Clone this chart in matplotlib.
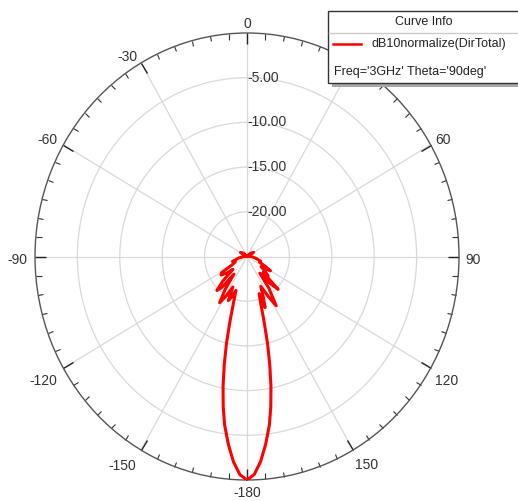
import matplotlib.pyplot as plt
from matplotlib.patches import Rectangle
from matplotlib.lines import Line2D
import numpy as np

plt.rcParams['font.family'] = ['Liberation Sans', 'DejaVu Sans']

# dB10normalize(DirTotal), Freq=3GHz, Theta=90deg
phi_left = [-180, -178, -176, -174, -172, -170.5, -169, -167.5, -166, -164.5,
            -163, -161, -158.5, -156, -154, -151, -148, -145, -142, -139.5,
            -137, -134, -131, -128, -124, -121, -118, -113, -108, -100, -90,
            -75, -60, -50, -40, -20, 0]
db_left = [0.0, -0.6, -2.0, -3.9, -6.0, -8.0, -10.2, -12.6, -15.0, -17.5,
           -19.5, -21.0, -20.2, -19.6, -21.2, -20.0, -18.9, -20.5, -22.5,
           -20.5, -19.8, -21.0, -22.8, -22.0, -21.3, -21.5, -23.0, -23.5,
           -23.2, -24.0, -24.6, -25.0, -24.1, -24.4, -25.0, -25.0, -25.0]

phi_right = [0, 20, 40, 50, 60, 75, 90, 100, 108, 113, 117, 120, 124, 128,
             131, 133, 135, 138, 141, 144, 148, 151, 154, 157, 159.5, 161,
             163, 164.5, 166, 167.5, 169, 170.5, 172, 174, 176, 178, 180]
db_right = [-25.0, -25.0, -25.0, -24.4, -24.1, -25.0, -24.5, -24.0, -23.3,
            -23.4, -22.6, -21.8, -23.0, -22.3, -21.7, -22.4, -19.8, -21.0,
            -22.6, -20.6, -18.5, -20.0, -21.3, -20.1, -18.9, -20.6, -19.4,
            -17.5, -15.0, -12.6, -10.2, -8.0, -6.0, -3.9, -2.0, -0.6, 0.0]

ring_db = [-5, -10, -15, -20]
ring_labels = ['-5.00', '-10.00', '-15.00', '-20.00']
angle_ticks = [0, 30, 60, 90, 120, 150, 180, -150, -120, -90, -60, -30]
angle_labels = ['0', '30', '60', '90', '120', '150', '-180', '-150', '-120',
                '-90', '-60', '-30']
# label offsets from the rim, in pixels
label_offsets = [(0, 9), (15, 7), (12, 5), (14, -3), (16, -13), (14, -15),
                 (0, -13), (-19, -16), (-20, -13), (-18, -3), (-16, 5),
                 (-14, 6)]

phi = np.array(phi_left + phi_right[1:])
db = np.clip(np.array(db_left + db_right[1:]), -25, 0)

fig = plt.figure(figsize=(5.18, 5.01), dpi=100)
ax = fig.add_axes([35 / 518, 21 / 501, 424 / 518, 447 / 501], projection='polar')
ax.set_aspect('auto')
ax.set_theta_zero_location('N')
ax.set_theta_direction(-1)

ax.plot(np.deg2rad(phi), db, color='#ff0000', lw=2.2, zorder=5)
ax.set_thetalim(-np.pi, np.pi)
ax.set_rlim(-25, 0)

ax.set_xticks(np.deg2rad(angle_ticks))
ax.set_xticklabels([])
ax.set_xticks(np.deg2rad(np.arange(-180, 180, 5)), minor=True)
ax.tick_params(axis='x', which='both', top=True, bottom=False,
               labelbottom=False, labeltop=False)
ax.tick_params(axis='x', which='major', direction='in', length=8, width=1,
               color='#222222')
ax.tick_params(axis='x', which='minor', direction='in', length=4, width=0.8,
               color='#333333')
ax.set_yticks(ring_db)
ax.set_yticklabels([])
ax.grid(True, color='#d9d9d9', lw=0.9)
ax.spines['polar'].set_color('#555555')
ax.spines['polar'].set_linewidth(1.0)

for a, lab, off in zip(angle_ticks, angle_labels, label_offsets):
    ax.annotate(lab, xy=(np.deg2rad(a), 0), xytext=off,
                textcoords='offset pixels', ha='center', va='center',
                fontsize=10, color='#333333', annotation_clip=False)

for r, lab in zip(ring_db, ring_labels):
    ax.text(0, r, lab, ha='left', va='center', fontsize=10, color='#333333',
            zorder=6)

# legend box
fig.patches.append(Rectangle((332, 501 - 87), 200, 72, transform=None,
                             facecolor='#a8a8a8', edgecolor='none', zorder=9))
fig.patches.append(Rectangle((328, 501 - 83), 200, 72, transform=None,
                             facecolor='white', edgecolor='#333333', lw=1,
                             zorder=10))
fig.lines.append(Line2D([329, 518], [501 - 33, 501 - 33], transform=None,
                        color='#cccccc', lw=1, zorder=11))
fig.lines.append(Line2D([333, 361], [501 - 43.5, 501 - 43.5], transform=None,
                        color='#ff0000', lw=1.8, zorder=11))
fig.text(424 / 518, 1 - 22 / 501, 'Curve Info', ha='center', va='center',
         fontsize=9, color='#222222', zorder=12)
fig.text(371 / 518, 1 - 43.5 / 501, 'dB10normalize(DirTotal)', ha='left',
         va='center', fontsize=9, color='#222222', zorder=12)
fig.text(334 / 518, 1 - 72 / 501, "Freq='3GHz' Theta='90deg'", ha='left',
         va='center', fontsize=9, color='#222222', zorder=12)

fig.savefig('out.png', dpi=100)
